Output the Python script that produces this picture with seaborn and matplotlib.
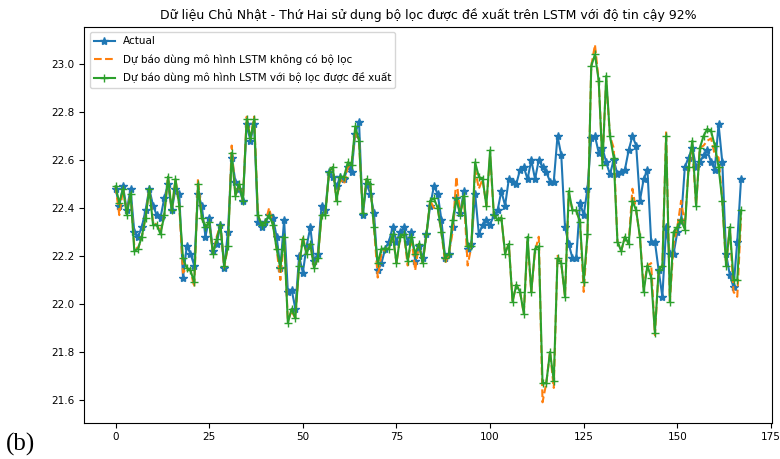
import numpy as np
import pandas as pd
import matplotlib
matplotlib.use("Agg")
import matplotlib.pyplot as plt
import seaborn as sns

# Observed temperature series (Actual)
actual = [
    22.48, 22.41, 22.49, 22.39, 22.48, 22.30, 22.28, 22.32, 22.39, 22.48,
    22.41, 22.37, 22.36, 22.44, 22.50, 22.39, 22.48, 22.46, 22.11, 22.24,
    22.21, 22.16, 22.46, 22.41, 22.28, 22.36, 22.22, 22.25, 22.33, 22.15,
    22.30, 22.61, 22.51, 22.48, 22.43, 22.75, 22.68, 22.75, 22.34, 22.32,
    22.34, 22.37, 22.36, 22.28, 22.15, 22.35, 22.05, 22.06, 21.98, 22.20,
    22.13, 22.24, 22.32, 22.18, 22.21, 22.41, 22.39, 22.55, 22.53, 22.49,
    22.53, 22.52, 22.57, 22.55, 22.71, 22.76, 22.37, 22.50, 22.46, 22.38,
    22.14, 22.17, 22.23, 22.26, 22.32, 22.26, 22.30, 22.32, 22.26, 22.30,
    22.18, 22.24, 22.19, 22.29, 22.41, 22.49, 22.46, 22.35, 22.19, 22.21,
    22.32, 22.44, 22.38, 22.47, 22.23, 22.25, 22.46, 22.29, 22.33, 22.35,
    22.33, 22.37, 22.39, 22.47, 22.41, 22.52, 22.51, 22.50, 22.56, 22.57,
    22.52, 22.60, 22.52, 22.60, 22.57, 22.55, 22.51, 22.51, 22.70, 22.62,
    22.32, 22.25, 22.19, 22.19, 22.42, 22.37, 22.48, 22.69, 22.70, 22.63,
    22.65, 22.59, 22.54, 22.60, 22.54, 22.55, 22.56, 22.64, 22.70, 22.66,
    22.43, 22.52, 22.56, 22.26, 22.26, 22.14, 22.03, 22.32, 22.21, 22.21,
    22.30, 22.35, 22.57, 22.61, 22.65, 22.57, 22.59, 22.62, 22.64, 22.59,
    22.56, 22.75, 22.59, 22.21, 22.12, 22.07, 22.26, 22.52,
]

# LSTM forecast without filtering
lstm_raw = [
    22.49, 22.37, 22.48, 22.38, 22.46, 22.24, 22.23, 22.28, 22.36, 22.48,
    22.34, 22.33, 22.30, 22.37, 22.53, 22.39, 22.52, 22.41, 22.13, 22.15,
    22.14, 22.07, 22.52, 22.36, 22.32, 22.34, 22.21, 22.28, 22.33, 22.15,
    22.24, 22.66, 22.45, 22.50, 22.43, 22.78, 22.69, 22.78, 22.37, 22.33,
    22.34, 22.40, 22.33, 22.23, 22.10, 22.28, 21.93, 21.97, 21.94, 22.16,
    22.28, 22.21, 22.25, 22.15, 22.19, 22.37, 22.37, 22.55, 22.57, 22.43,
    22.52, 22.50, 22.57, 22.58, 22.72, 22.68, 22.38, 22.52, 22.50, 22.32,
    22.11, 22.21, 22.23, 22.23, 22.29, 22.17, 22.28, 22.29, 22.16, 22.28,
    22.14, 22.25, 22.17, 22.29, 22.43, 22.40, 22.40, 22.30, 22.17, 22.21,
    22.30, 22.53, 22.37, 22.45, 22.16, 22.24, 22.56, 22.48, 22.52, 22.41,
    22.62, 22.37, 22.35, 22.36, 22.21, 22.25, 22.01, 22.08, 22.05, 21.96,
    22.26, 22.05, 22.22, 22.28, 21.59, 21.67, 21.80, 21.65, 22.20, 22.17,
    22.03, 22.46, 22.39, 22.39, 22.34, 22.05, 22.29, 22.99, 23.08, 22.93,
    22.60, 22.93, 22.70, 22.65, 22.26, 22.22, 22.28, 22.25, 22.48, 22.39,
    22.28, 22.07, 22.16, 22.17, 21.87, 22.14, 22.16, 22.72, 22.01, 22.25,
    22.32, 22.43, 22.33, 22.57, 22.65, 22.41, 22.65, 22.66, 22.68, 22.69,
    22.62, 22.61, 22.43, 22.16, 22.32, 22.05, 22.03, 22.36,
]

# LSTM forecast with the proposed filter
lstm_filtered = [
    22.49, 22.42, 22.48, 22.37, 22.46, 22.22, 22.23, 22.28, 22.36, 22.48,
    22.33, 22.33, 22.29, 22.37, 22.53, 22.39, 22.52, 22.41, 22.19, 22.15,
    22.14, 22.09, 22.50, 22.36, 22.32, 22.34, 22.21, 22.27, 22.33, 22.16,
    22.24, 22.63, 22.45, 22.50, 22.43, 22.77, 22.69, 22.77, 22.37, 22.33,
    22.34, 22.37, 22.33, 22.23, 22.15, 22.28, 21.92, 21.98, 21.94, 22.16,
    22.27, 22.21, 22.25, 22.15, 22.19, 22.37, 22.37, 22.55, 22.57, 22.43,
    22.53, 22.53, 22.59, 22.58, 22.74, 22.68, 22.38, 22.52, 22.50, 22.32,
    22.17, 22.23, 22.23, 22.23, 22.29, 22.17, 22.28, 22.29, 22.18, 22.28,
    22.21, 22.25, 22.17, 22.29, 22.43, 22.44, 22.40, 22.30, 22.19, 22.21,
    22.35, 22.44, 22.37, 22.45, 22.24, 22.24, 22.59, 22.53, 22.52, 22.41,
    22.64, 22.37, 22.35, 22.36, 22.21, 22.25, 22.01, 22.08, 22.05, 21.96,
    22.28, 22.05, 22.23, 22.24, 21.67, 21.67, 21.80, 21.68, 22.19, 22.17,
    22.03, 22.47, 22.39, 22.39, 22.34, 22.09, 22.29, 22.99, 23.04, 22.93,
    22.58, 22.95, 22.70, 22.61, 22.26, 22.22, 22.28, 22.25, 22.43, 22.39,
    22.28, 22.05, 22.16, 22.11, 21.88, 22.14, 22.16, 22.70, 22.01, 22.30,
    22.32, 22.35, 22.31, 22.57, 22.68, 22.41, 22.65, 22.70, 22.73, 22.72,
    22.66, 22.57, 22.43, 22.16, 22.32, 22.10, 22.10, 22.39,
]

labels = [
    "Actual",
    "Dự báo dùng mô hình LSTM không có bộ lọc",
    "Dự báo dùng mô hình LSTM với bộ lọc được đề xuất",
]
title = "Dữ liệu Chủ Nhật - Thứ Hai sử dụng bộ lọc được đề xuất trên LSTM với độ tin cậy 92%"
x_ticks = [0, 25, 50, 75, 100, 125, 150, 175]
y_ticks = [21.6, 21.8, 22.0, 22.2, 22.4, 22.6, 22.8, 23.0]

df = pd.DataFrame({
    "t": np.arange(len(actual)),
    "actual": actual,
    "raw": lstm_raw,
    "filtered": lstm_filtered,
})

plt.rcParams["font.family"] = ["DejaVu Sans"]

W, H = 780, 459
fig = plt.figure(figsize=(W / 100, H / 100), dpi=100)
left, right, top, bottom = 84.3, 772.3, 27.0, 422.7
ax = fig.add_axes([left / W, 1 - bottom / H, (right - left) / W, (bottom - top) / H])

c_blue, c_orange, c_green = "#1f77b4", "#ff7f0e", "#2ca02c"

sns.lineplot(data=df, x="t", y="actual", ax=ax, color=c_blue, marker="*",
             markersize=6, markeredgecolor=c_blue, markeredgewidth=1,
             linewidth=1.5, label=labels[0])
sns.lineplot(data=df, x="t", y="raw", ax=ax, color=c_orange, linestyle="--",
             linewidth=1.5, label=labels[1])
sns.lineplot(data=df, x="t", y="filtered", ax=ax, color=c_green, marker="+",
             markersize=6, markeredgecolor=c_green, markeredgewidth=1,
             linewidth=1.5, label=labels[2])

ax.set_xticks(x_ticks)
ax.set_yticks(y_ticks)
ax.set_ylim(21.505, 23.154)
ax.set_xlabel("")
ax.set_ylabel("")
ax.tick_params(labelsize=7.5)
ax.set_title(title, fontsize=9, pad=6)
ax.legend(loc="upper left", fontsize=7.5, labelspacing=0.75, framealpha=0.8)

fig.text(0.008, 0.018, "(b)", fontsize=18, family=["Liberation Serif", "DejaVu Serif"])

fig.savefig("out.png", dpi=100)
